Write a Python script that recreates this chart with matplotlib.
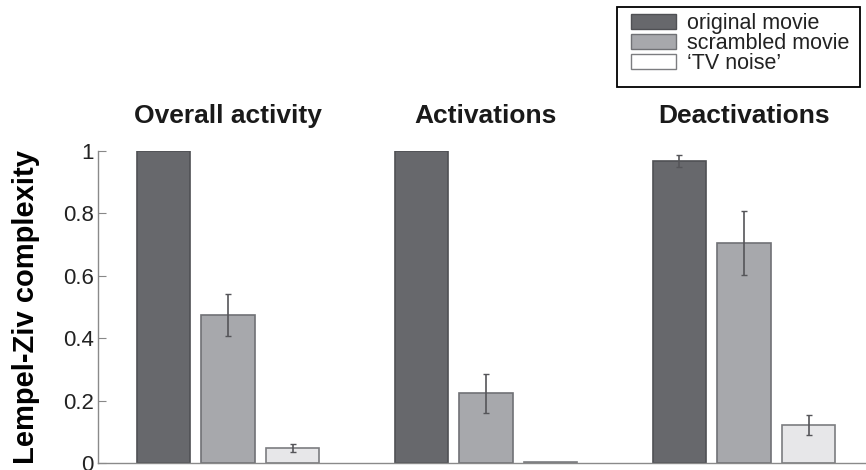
import matplotlib.pyplot as plt
import numpy as np
from matplotlib.patches import Rectangle

plt.rcParams['font.family'] = ['Liberation Sans', 'DejaVu Sans']

# Lempel-Ziv complexity per condition, one list per stimulus
groups = ['Overall activity', 'Activations', 'Deactivations']
conditions = ['original movie', 'scrambled movie', '\u2018TV noise\u2019']
original = [1.0, 1.0, 0.968]
original_err = [0.0, 0.0, 0.02]
scrambled = [0.474, 0.223, 0.706]
scrambled_err = [0.068, 0.062, 0.103]
tv_noise = [0.048, 0.003, 0.122]
tv_noise_err = [0.014, 0.0, 0.033]

fills = ['#67686c', '#a7a8ac', '#e7e7e9']
edges = ['#4f5054', '#707175', '#7c7d80']
legend_fills = ['#67686c', '#a7a8ac', '#ffffff']

W, H = 866, 470
fig = plt.figure(figsize=(W / 100, H / 100), dpi=100)
ax = fig.add_axes([98 / W, 7 / H, 768 / W, 312 / H])

x = np.arange(len(groups))
offset = 0.251
width = 0.206
series = [(original, original_err), (scrambled, scrambled_err), (tv_noise, tv_noise_err)]
for i, (vals, errs) in enumerate(series):
    pos = x + (i - 1) * offset
    ax.bar(pos, vals, width, color=fills[i], edgecolor=edges[i], linewidth=1.2, zorder=2)
    for p, v, e in zip(pos, vals, errs):
        if e > 0:
            ax.errorbar(p, v, yerr=e, fmt='none', ecolor='#555559', elinewidth=1.2,
                        capsize=2.5, capthick=1.0, zorder=3, clip_on=False)

ax.set_xlim(-0.504, 2.473)
ax.set_ylim(0, 1)
ax.set_xticks([])
ax.set_yticks([0, 0.2, 0.4, 0.6, 0.8, 1])
ax.set_yticklabels(['0', '0.2', '0.4', '0.6', '0.8', '1'])
ax.tick_params(axis='y', direction='in', length=6, width=0.8, color='#888888',
               labelsize=16, labelcolor='#222222', pad=3)
for s in ['top', 'right']:
    ax.spines[s].set_visible(False)
for s in ['left', 'bottom']:
    ax.spines[s].set_color('#8a8a8a')
    ax.spines[s].set_linewidth(1.0)

ax.set_ylabel('Lempel-Ziv complexity', fontsize=21, fontweight='bold')
ax.yaxis.set_label_coords(-0.0755, 0.5)

for g, name in zip(x, groups):
    ax.text(g, 1.089, name, ha='center', va='baseline', fontsize=19, fontweight='bold',
            color='#1a1a1a', clip_on=False)

# legend box drawn separately so the padding can differ per side
handles = [plt.Rectangle((0, 0), 1, 1, facecolor=legend_fills[i], edgecolor=edges[i], linewidth=1.0)
           for i in range(3)]
leg = fig.legend(handles, conditions, loc='upper left', bbox_to_anchor=(631 / W, 1 - 13 / H),
                 fontsize=15.5, frameon=False, handlelength=2.08, handleheight=0.66,
                 handletextpad=0.51, labelspacing=-0.05, borderpad=0, borderaxespad=0)
for t in leg.get_texts():
    t.set_color('#222222')
fig.add_artist(Rectangle((617 / W, 1 - 87 / H), 243 / W, 80 / H, transform=fig.transFigure,
                         fill=False, edgecolor='black', linewidth=1.3))

fig.savefig('out.png', dpi=100)
